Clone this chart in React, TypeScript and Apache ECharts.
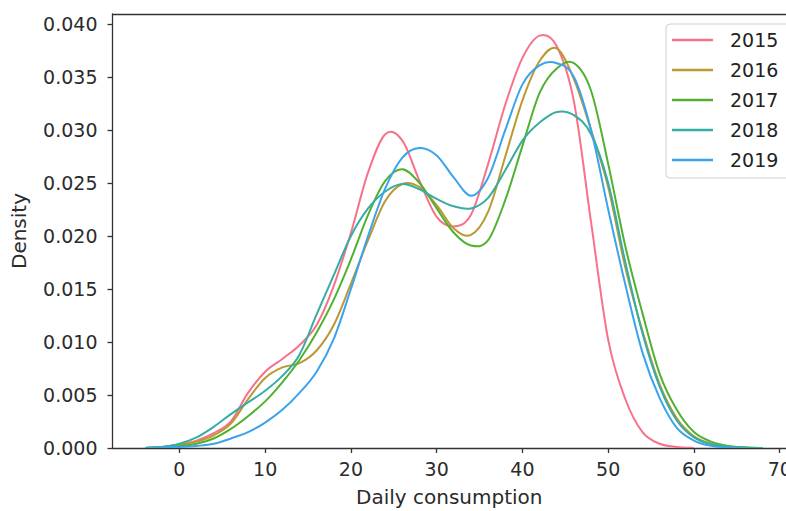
import React, { useEffect, useRef } from "react";
import * as echarts from "echarts";

// Daily consumption grid (x) and density values (in thousandths) per year
const years = ["2015", "2016", "2017", "2018", "2019"];
const colors = ["#f77189", "#bb9832", "#50b131", "#36ada4", "#3ba3ec"];

const xGrid = [-4, -2, 0, 2, 4, 6, 8, 10, 12, 14, 16, 18, 20, 22, 24, 26, 28, 30, 32, 34, 36, 38, 40, 42, 44, 46, 48, 50, 52, 54, 56, 58, 60, 62, 64, 66, 68];

const d2015 = [0, 0.1, 0.3, 0.7, 1.4, 2.5, 5.2, 7.2, 8.4, 9.7, 11.6, 15.3, 20.3, 26.0, 29.6, 29.0, 25.2, 21.8, 20.9, 22.0, 26.8, 32.4, 36.8, 38.9, 37.9, 32.7, 21.3, 10.2, 4.6, 1.5, 0.4, 0.1, 0, null, null, null, null];
const d2016 = [0, 0.1, 0.3, 0.6, 1.2, 2.3, 4.6, 6.6, 7.6, 8.0, 9.2, 11.6, 15.5, 19.6, 23.3, 24.9, 24.6, 22.9, 20.7, 20.1, 22.3, 27.5, 32.8, 36.5, 37.7, 34.8, 30.0, 24.6, 17.0, 11.0, 6.0, 2.8, 1.1, 0.4, 0.12, 0.03, 0];
const d2017 = [0, 0.1, 0.2, 0.4, 0.9, 1.8, 3.0, 4.4, 6.2, 8.3, 10.9, 14.0, 17.8, 22.0, 25.2, 26.3, 25.0, 22.6, 20.3, 19.1, 19.6, 23.4, 28.5, 33.5, 35.8, 36.3, 33.7, 26.8, 19.0, 12.7, 7.0, 3.6, 1.5, 0.6, 0.2, 0.06, 0];
const d2018 = [0, 0.1, 0.4, 1.0, 2.0, 3.2, 4.3, 5.4, 6.8, 8.8, 12.6, 16.3, 20.0, 22.6, 24.2, 24.9, 24.4, 23.5, 22.8, 22.6, 23.6, 26.2, 29.0, 30.7, 31.7, 31.4, 29.6, 25.0, 17.5, 10.8, 5.8, 2.6, 1.0, 0.35, 0.1, 0.03, 0];
const d2019 = [0, 0.05, 0.1, 0.2, 0.4, 0.9, 1.5, 2.4, 3.6, 5.2, 7.2, 10.3, 15.0, 20.0, 24.5, 27.4, 28.3, 27.6, 25.5, 23.8, 25.5, 30.0, 34.3, 36.1, 36.3, 35.0, 30.0, 22.5, 15.4, 9.0, 4.7, 1.9, 0.7, 0.2, 0.05, 0, null];

const xTicks = [0, 10, 20, 30, 40, 50, 60, 70];
const yTicks = [0, 0.005, 0.01, 0.015, 0.02, 0.025, 0.03, 0.035, 0.04];

const dSets = [d2015, d2016, d2017, d2018, d2019];

const FONT = "DejaVu Sans";
const TXT = "#2b2b2b";
const X_MIN = -7.8;
const X_MAX = 70.73; // plot is cropped at the right edge of the picture
const Y_MAX = 0.04094;

function pointsOf(i: number): number[][] {
  const out: number[][] = [];
  xGrid.forEach((x, j) => {
    const v = dSets[i][j];
    if (v !== null && v !== undefined) out.push([x, (v as number) / 1000]);
  });
  return out;
}

export default function App() {
  const ref = useRef<HTMLDivElement>(null);
  useEffect(() => {
    if (!ref.current) return;
    const chart = echarts.init(ref.current, undefined, { renderer: "svg" });
    const series = years.map((y, i) => {
      const pts = pointsOf(i);
      return {
        name: y,
        type: "custom",
        coordinateSystem: "cartesian2d",
        xAxisIndex: 0,
        yAxisIndex: 0,
        data: [pts[0]],
        clip: true,
        itemStyle: { color: colors[i] },
        renderItem: (_params: any, api: any) => {
          const p = pts.map((d) => api.coord(d));
          const n = p.length;
          let d = `M${p[0][0].toFixed(2)} ${p[0][1].toFixed(2)}`;
          for (let k = 0; k < n - 1; k++) {
            const p0 = p[Math.max(k - 1, 0)];
            const p1 = p[k];
            const p2 = p[k + 1];
            const p3 = p[Math.min(k + 2, n - 1)];
            const c1x = p1[0] + (p2[0] - p0[0]) / 6;
            const c1y = p1[1] + (p2[1] - p0[1]) / 6;
            const c2x = p2[0] - (p3[0] - p1[0]) / 6;
            const c2y = p2[1] - (p3[1] - p1[1]) / 6;
            d += ` C${c1x.toFixed(2)} ${c1y.toFixed(2)} ${c2x.toFixed(2)} ${c2y.toFixed(2)} ${p2[0].toFixed(2)} ${p2[1].toFixed(2)}`;
          }
          return {
            type: "path",
            shape: { pathData: d },
            style: { stroke: colors[i], fill: "none", lineWidth: 2 },
            silent: true,
          };
        },
      };
    });
    const spine = { show: true, onZero: false, lineStyle: { color: "#333333", width: 1.3 } };
    chart.setOption({
      animation: false,
      backgroundColor: "#ffffff",
      textStyle: { fontFamily: FONT },
      grid: {
        left: 112.5,
        top: 14,
        right: 0,
        bottom: 63,
        show: false,
        containLabel: false,
        outerBoundsMode: "none",
      },
      legend: {
        data: years,
        orient: "vertical",
        left: 666,
        top: 24,
        icon: "rect",
        itemWidth: 41,
        itemHeight: 2.5,
        itemGap: 10,
        padding: [6, 30, 8, 6],
        backgroundColor: "rgba(255,255,255,0.8)",
        borderColor: "#d0d0d0",
        borderWidth: 1,
        borderRadius: 4,
        textStyle: {
          fontFamily: FONT,
          fontSize: 19,
          color: "#222",
          lineHeight: 20,
          padding: [0, 0, 0, 12],
        },
      },
      xAxis: [
        {
          type: "value",
          position: "bottom",
          min: X_MIN,
          max: X_MAX,
          name: "Daily consumption",
          nameLocation: "middle",
          nameGap: 39,
          nameTextStyle: { fontFamily: FONT, fontSize: 20, color: TXT },
          splitLine: { show: false },
          axisLine: spine,
          axisTick: {
            show: true,
            customValues: xTicks,
            length: 5,
            lineStyle: { color: "#333", width: 1.3 },
          },
          axisLabel: {
            customValues: xTicks,
            formatter: (v: number) => String(v),
            margin: 11,
            fontFamily: FONT,
            fontSize: 19,
            color: TXT,
          },
        },
        {
          type: "value",
          position: "top",
          min: X_MIN,
          max: X_MAX,
          splitLine: { show: false },
          axisLine: spine,
          axisTick: { show: false },
          axisLabel: { show: false },
        },
      ],
      yAxis: {
        type: "value",
        min: 0,
        max: Y_MAX,
        name: "Density",
        nameLocation: "middle",
        nameGap: 84,
        nameTextStyle: { fontFamily: FONT, fontSize: 20, color: TXT },
        splitLine: { show: false },
        axisLine: spine,
        axisTick: {
          show: true,
          customValues: yTicks,
          length: 5,
          lineStyle: { color: "#333", width: 1.3 },
        },
        axisLabel: {
          customValues: yTicks,
          formatter: (v: number) => v.toFixed(3),
          margin: 15,
          fontFamily: FONT,
          fontSize: 19,
          color: TXT,
        },
      },
      series,
    });
    return () => chart.dispose();
  }, []);
  return (
    <div
      ref={ref}
      style={{ position: "fixed", left: 0, top: 0, width: 786, height: 511 }}
    />
  );
}
